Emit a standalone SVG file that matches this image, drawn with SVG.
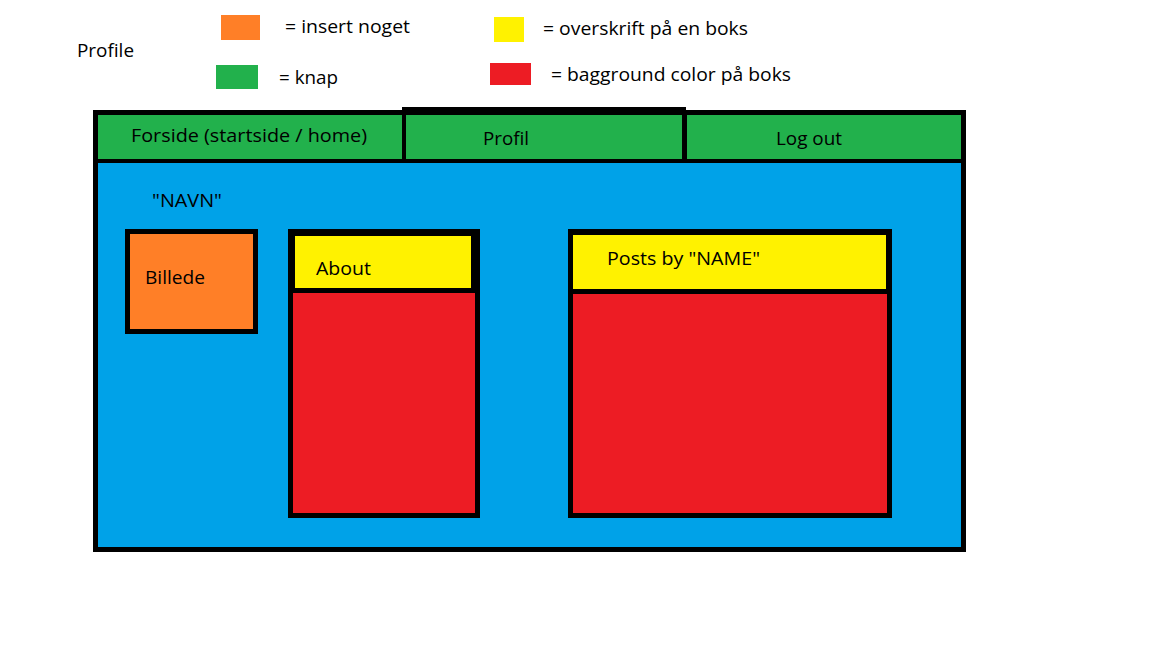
<svg xmlns="http://www.w3.org/2000/svg" width="1152" height="648" viewBox="0 0 1152 648">
<style>
text{font-family:"Open Sans","Noto Sans","Liberation Sans",sans-serif;font-size:19px;fill:#000}
.blk{fill:#000}
.blue{fill:#00A2E8}
.green{fill:#22B14C}
.orange{fill:#FF7F27}
.yellow{fill:#FFF200}
.red{fill:#ED1C24}
</style>
<rect width="1152" height="648" fill="#fff"/>
<g id="title"><text x="77" y="57" textLength="57" lengthAdjust="spacingAndGlyphs">Profile</text></g>
<g id="legend">
<rect class="orange" x="221" y="15" width="39" height="25"/>
<text x="285" y="33" textLength="125" lengthAdjust="spacingAndGlyphs">= insert noget</text>
<rect class="green" x="216" y="65" width="42" height="24"/>
<text x="279" y="84" textLength="59" lengthAdjust="spacingAndGlyphs">= knap</text>
<rect class="yellow" x="494" y="17" width="30" height="25"/>
<text x="543" y="35" textLength="205" lengthAdjust="spacingAndGlyphs">= overskrift på en boks</text>
<rect class="red" x="490" y="63" width="41" height="22"/>
<text x="551" y="81" textLength="240" lengthAdjust="spacingAndGlyphs">= bagground color på boks</text>
</g>
<g id="page">
<rect class="blk" x="93" y="110" width="873" height="442"/>
<rect class="blk" x="402" y="107" width="284" height="5"/>
<rect class="blue" x="98" y="163" width="863" height="384"/>
</g>
<g id="nav-forside">
<rect class="green" x="98" y="115" width="304" height="44"/>
<text x="131" y="142" textLength="236" lengthAdjust="spacingAndGlyphs">Forside (startside / home)</text>
</g>
<g id="nav-profil">
<rect class="green" x="406" y="115" width="276" height="44"/>
<text x="483" y="145" textLength="46" lengthAdjust="spacingAndGlyphs">Profil</text>
</g>
<g id="nav-logout">
<rect class="green" x="687" y="115" width="274" height="44"/>
<text x="776" y="145" textLength="66" lengthAdjust="spacingAndGlyphs">Log out</text>
</g>
<g id="navn"><text x="152" y="207" textLength="70" lengthAdjust="spacingAndGlyphs">"NAVN"</text></g>
<g id="billede">
<rect class="blk" x="125" y="229" width="133" height="105"/>
<rect class="orange" x="130" y="234" width="123" height="95"/>
<text x="145" y="284" textLength="60" lengthAdjust="spacingAndGlyphs">Billede</text>
</g>
<g id="about">
<rect class="blk" x="288" y="229" width="192" height="289"/>
<rect class="yellow" x="295" y="236" width="176" height="52"/>
<rect class="red" x="293" y="293" width="182" height="220"/>
<text x="316" y="275" textLength="55" lengthAdjust="spacingAndGlyphs">About</text>
</g>
<g id="posts">
<rect class="blk" x="568" y="229" width="324" height="289"/>
<rect class="yellow" x="573" y="235" width="313" height="54"/>
<rect class="red" x="573" y="294" width="314" height="219"/>
<text x="607" y="265" textLength="153" lengthAdjust="spacingAndGlyphs">Posts by "NAME"</text>
</g>
<g id="connectors"/>
</svg>
